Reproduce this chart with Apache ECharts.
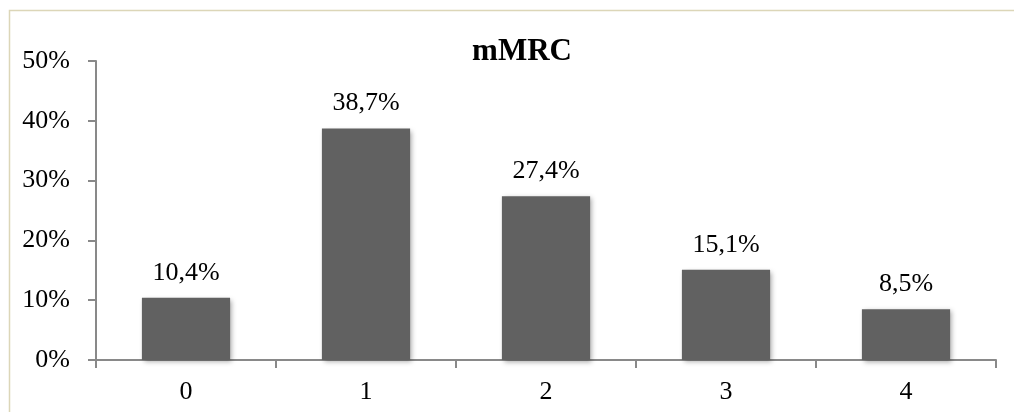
<!DOCTYPE html>
<html>
<head>
<meta charset="utf-8">
<script src="https://cdn.jsdelivr.net/npm/echarts@6/dist/echarts.min.js"></script>
<style>
  html, body { margin: 0; padding: 0; background: #ffffff; }
  #chart { width: 1014px; height: 412px; }
</style>
</head>
<body>
<div id="chart"></div>
<script>
const titleText = "mMRC";
const categories = ["0", "1", "2", "3", "4"];
const values = [10.4, 38.7, 27.4, 15.1, 8.5];
const yTicks = [0, 10, 20, 30, 40, 50];

const chart = echarts.init(document.getElementById('chart'), null, { renderer: 'canvas' });
const fontFamily = '"Liberation Serif", "Times New Roman", serif';
const axisColor = '#898989';

chart.setOption({
  backgroundColor: '#ffffff',
  animation: false,
  title: {
    text: titleText,
    left: 517,
    top: 31,
    textAlign: 'center',
    textStyle: { fontFamily: fontFamily, fontWeight: 'bold', fontSize: 31, color: '#000000' }
  },
  graphic: [{
    type: 'rect',
    shape: { x: 9.5, y: 10.5, width: 1020, height: 420 },
    style: { fill: 'none', stroke: '#dcd6b8', lineWidth: 1.5 },
    silent: true
  }],
  grid: { left: 96, right: 18, top: 61, bottom: 52, containLabel: false },
  xAxis: {
    type: 'category',
    data: categories,
    boundaryGap: true,
    axisLine: { lineStyle: { color: axisColor, width: 2 } },
    axisTick: { show: true, alignWithLabel: false, length: 8, lineStyle: { color: axisColor, width: 2 } },
    axisLabel: { fontFamily: fontFamily, fontSize: 26, color: '#000000', margin: 19 }
  },
  yAxis: {
    type: 'value',
    min: yTicks[0],
    max: yTicks[yTicks.length - 1],
    interval: 10,
    splitLine: { show: false },
    axisLine: { show: true, lineStyle: { color: axisColor, width: 2 } },
    axisTick: { show: true, length: 8, lineStyle: { color: axisColor, width: 2 } },
    axisLabel: { fontFamily: fontFamily, fontSize: 26, color: '#000000', margin: 26, formatter: v => v + '%' }
  },
  series: [{
    type: 'bar',
    data: values,
    barWidth: '49%',
    itemStyle: {
      color: '#616161',
      shadowColor: 'rgba(0,0,0,0.35)',
      shadowBlur: 5,
      shadowOffsetX: 2,
      shadowOffsetY: 2
    },
    label: {
      show: true,
      position: 'top',
      distance: 12,
      fontFamily: fontFamily,
      fontSize: 26,
      color: '#000000',
      formatter: p => String(p.value.toFixed(1)).replace('.', ',') + '%'
    }
  }]
});
</script>
</body>
</html>
